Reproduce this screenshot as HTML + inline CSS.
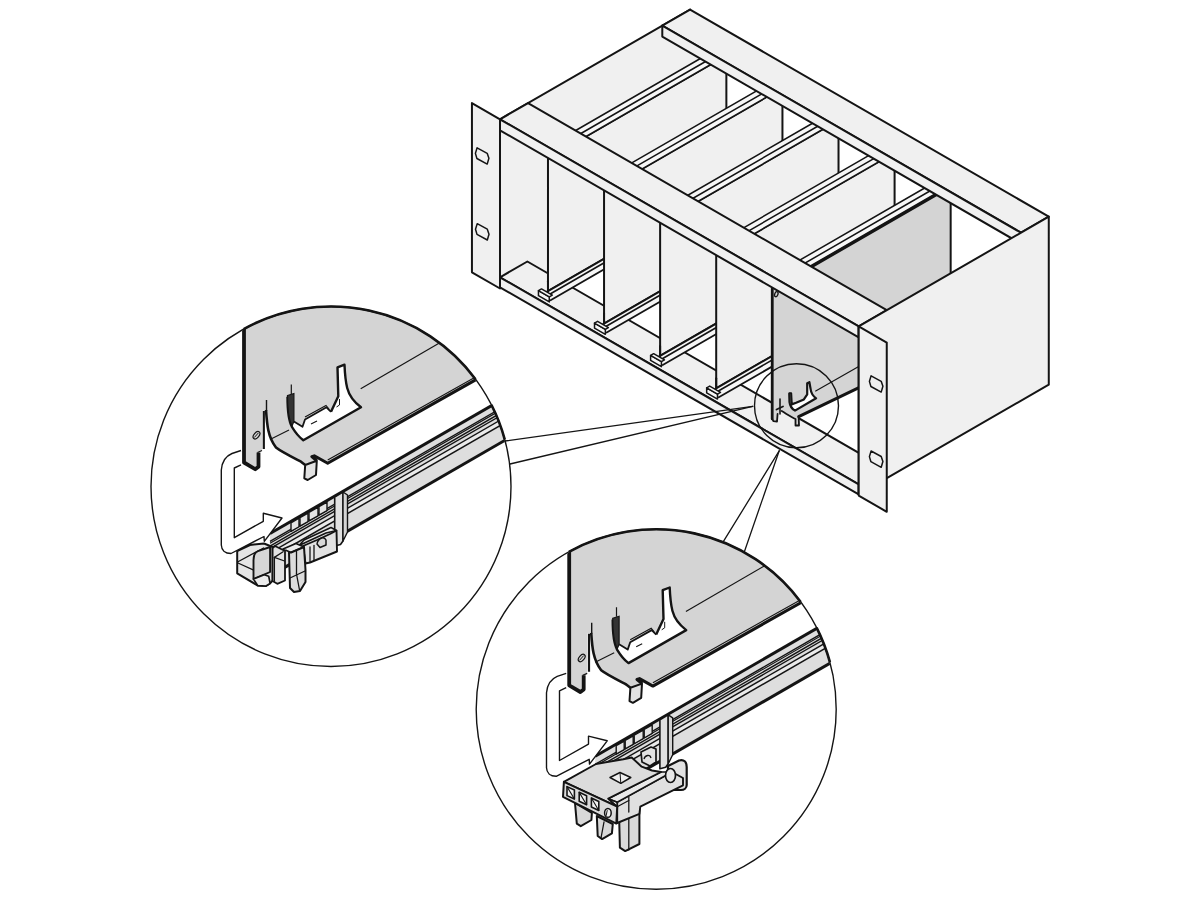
<!DOCTYPE html>
<html><head><meta charset="utf-8"><style>
html,body{margin:0;padding:0;background:#fff;font-family:"Liberation Sans", sans-serif;}
svg{display:block;}
</style></head><body>
<svg width="1200" height="900" viewBox="0 0 1200 900">
<rect width="1200" height="900" fill="#fff"/>
<defs><clipPath id="clip331"><circle cx="331" cy="486.5" r="179.5"/></clipPath>
<clipPath id="clip656"><circle cx="656.2" cy="709.3" r="179.5"/></clipPath></defs>
<polygon points="500.00,119.30 690.09,9.55 690.09,194.55 534.64,284.30 500.00,287.30" fill="#f0f0f0" stroke="none" stroke-width="0" stroke-linejoin="round" />
<polygon points="629.90,56.30 700.05,15.80 700.05,63.80 629.90,104.30" fill="#f0f0f0" stroke="none" stroke-width="0" stroke-linejoin="round" />
<line x1="500.00" y1="119.30" x2="690.09" y2="9.55" stroke="#141414" stroke-width="2.0" stroke-linecap="round" />
<polygon points="500.00,277.30 858.70,484.40 886.06,468.60 527.37,261.50" fill="#f0f0f0" stroke="#141414" stroke-width="2.0" stroke-linejoin="round" />
<polygon points="547.98,158.50 726.37,55.50 726.37,188.20 547.98,291.20" fill="#f0f0f0" stroke="#141414" stroke-width="2.0" stroke-linejoin="round" />
<polygon points="551.01,144.75 715.55,49.75 720.74,52.75 556.20,147.75" fill="#f7f7f7" stroke="none" stroke-width="0" stroke-linejoin="round" />
<polygon points="556.20,147.75 720.74,52.75 720.74,58.75 556.20,153.75" fill="#f7f7f7" stroke="none" stroke-width="0" stroke-linejoin="round" />
<line x1="551.01" y1="144.75" x2="715.55" y2="49.75" stroke="#141414" stroke-width="1.5" stroke-linecap="round" />
<line x1="556.20" y1="147.75" x2="720.74" y2="52.75" stroke="#141414" stroke-width="1.5" stroke-linecap="round" />
<line x1="556.20" y1="153.75" x2="720.74" y2="58.75" stroke="#141414" stroke-width="1.5" stroke-linecap="round" />
<polygon points="547.11,291.70 721.18,191.20 724.64,193.20 550.57,293.70" fill="#f7f7f7" stroke="none" stroke-width="0" stroke-linejoin="round" />
<polygon points="550.57,293.70 724.64,193.20 724.64,199.70 550.57,300.20" fill="#f7f7f7" stroke="none" stroke-width="0" stroke-linejoin="round" />
<line x1="547.11" y1="291.70" x2="721.18" y2="191.20" stroke="#141414" stroke-width="2.0" stroke-linecap="round" />
<line x1="550.57" y1="293.70" x2="724.64" y2="193.20" stroke="#141414" stroke-width="1.7" stroke-linecap="round" />
<line x1="550.57" y1="300.20" x2="724.64" y2="199.70" stroke="#141414" stroke-width="1.8" stroke-linecap="round" />
<polygon points="538.45,290.70 549.28,296.95 549.28,301.95 538.45,295.70" fill="#f7f7f7" stroke="#141414" stroke-width="1.5" stroke-linejoin="round" />
<polygon points="538.45,290.70 549.28,296.95 552.31,295.20 541.48,288.95" fill="#f7f7f7" stroke="#141414" stroke-width="1.5" stroke-linejoin="round" />
<line x1="547.98" y1="281.20" x2="547.98" y2="291.20" stroke="#141414" stroke-width="2.0" stroke-linecap="round" />
<polygon points="604.05,190.88 782.45,87.88 782.45,220.57 604.05,323.57" fill="#f0f0f0" stroke="#141414" stroke-width="2.0" stroke-linejoin="round" />
<polygon points="607.08,177.12 771.62,82.12 776.82,85.12 612.28,180.12" fill="#f7f7f7" stroke="none" stroke-width="0" stroke-linejoin="round" />
<polygon points="612.28,180.12 776.82,85.12 776.82,91.12 612.28,186.12" fill="#f7f7f7" stroke="none" stroke-width="0" stroke-linejoin="round" />
<line x1="607.08" y1="177.12" x2="771.62" y2="82.12" stroke="#141414" stroke-width="1.5" stroke-linecap="round" />
<line x1="612.28" y1="180.12" x2="776.82" y2="85.12" stroke="#141414" stroke-width="1.5" stroke-linecap="round" />
<line x1="612.28" y1="186.12" x2="776.82" y2="91.12" stroke="#141414" stroke-width="1.5" stroke-linecap="round" />
<polygon points="603.18,324.07 777.25,223.57 780.71,225.57 606.65,326.07" fill="#f7f7f7" stroke="none" stroke-width="0" stroke-linejoin="round" />
<polygon points="606.65,326.07 780.71,225.57 780.71,232.07 606.65,332.57" fill="#f7f7f7" stroke="none" stroke-width="0" stroke-linejoin="round" />
<line x1="603.18" y1="324.07" x2="777.25" y2="223.57" stroke="#141414" stroke-width="2.0" stroke-linecap="round" />
<line x1="606.65" y1="326.07" x2="780.71" y2="225.57" stroke="#141414" stroke-width="1.7" stroke-linecap="round" />
<line x1="606.65" y1="332.57" x2="780.71" y2="232.07" stroke="#141414" stroke-width="1.8" stroke-linecap="round" />
<polygon points="594.52,323.07 605.35,329.32 605.35,334.32 594.52,328.07" fill="#f7f7f7" stroke="#141414" stroke-width="1.5" stroke-linejoin="round" />
<polygon points="594.52,323.07 605.35,329.32 608.38,327.57 597.55,321.32" fill="#f7f7f7" stroke="#141414" stroke-width="1.5" stroke-linejoin="round" />
<line x1="604.05" y1="313.57" x2="604.05" y2="323.57" stroke="#141414" stroke-width="2.0" stroke-linecap="round" />
<polygon points="660.12,223.25 838.52,120.25 838.52,252.95 660.12,355.95" fill="#f0f0f0" stroke="#141414" stroke-width="2.0" stroke-linejoin="round" />
<polygon points="663.15,209.50 827.69,114.50 832.89,117.50 668.35,212.50" fill="#f7f7f7" stroke="none" stroke-width="0" stroke-linejoin="round" />
<polygon points="668.35,212.50 832.89,117.50 832.89,123.50 668.35,218.50" fill="#f7f7f7" stroke="none" stroke-width="0" stroke-linejoin="round" />
<line x1="663.15" y1="209.50" x2="827.69" y2="114.50" stroke="#141414" stroke-width="1.5" stroke-linecap="round" />
<line x1="668.35" y1="212.50" x2="832.89" y2="117.50" stroke="#141414" stroke-width="1.5" stroke-linecap="round" />
<line x1="668.35" y1="218.50" x2="832.89" y2="123.50" stroke="#141414" stroke-width="1.5" stroke-linecap="round" />
<polygon points="659.26,356.45 833.32,255.95 836.79,257.95 662.72,358.45" fill="#f7f7f7" stroke="none" stroke-width="0" stroke-linejoin="round" />
<polygon points="662.72,358.45 836.79,257.95 836.79,264.45 662.72,364.95" fill="#f7f7f7" stroke="none" stroke-width="0" stroke-linejoin="round" />
<line x1="659.26" y1="356.45" x2="833.32" y2="255.95" stroke="#141414" stroke-width="2.0" stroke-linecap="round" />
<line x1="662.72" y1="358.45" x2="836.79" y2="257.95" stroke="#141414" stroke-width="1.7" stroke-linecap="round" />
<line x1="662.72" y1="364.95" x2="836.79" y2="264.45" stroke="#141414" stroke-width="1.8" stroke-linecap="round" />
<polygon points="650.60,355.45 661.42,361.70 661.42,366.70 650.60,360.45" fill="#f7f7f7" stroke="#141414" stroke-width="1.5" stroke-linejoin="round" />
<polygon points="650.60,355.45 661.42,361.70 664.45,359.95 653.63,353.70" fill="#f7f7f7" stroke="#141414" stroke-width="1.5" stroke-linejoin="round" />
<line x1="660.12" y1="345.95" x2="660.12" y2="355.95" stroke="#141414" stroke-width="2.0" stroke-linecap="round" />
<polygon points="716.20,255.62 894.59,152.62 894.59,285.32 716.20,388.32" fill="#f0f0f0" stroke="#141414" stroke-width="2.0" stroke-linejoin="round" />
<polygon points="719.23,241.88 883.77,146.88 888.96,149.88 724.42,244.88" fill="#f7f7f7" stroke="none" stroke-width="0" stroke-linejoin="round" />
<polygon points="724.42,244.88 888.96,149.88 888.96,155.88 724.42,250.88" fill="#f7f7f7" stroke="none" stroke-width="0" stroke-linejoin="round" />
<line x1="719.23" y1="241.88" x2="883.77" y2="146.88" stroke="#141414" stroke-width="1.5" stroke-linecap="round" />
<line x1="724.42" y1="244.88" x2="888.96" y2="149.88" stroke="#141414" stroke-width="1.5" stroke-linecap="round" />
<line x1="724.42" y1="250.88" x2="888.96" y2="155.88" stroke="#141414" stroke-width="1.5" stroke-linecap="round" />
<polygon points="715.33,388.82 889.40,288.32 892.86,290.32 718.79,390.82" fill="#f7f7f7" stroke="none" stroke-width="0" stroke-linejoin="round" />
<polygon points="718.79,390.82 892.86,290.32 892.86,296.82 718.79,397.32" fill="#f7f7f7" stroke="none" stroke-width="0" stroke-linejoin="round" />
<line x1="715.33" y1="388.82" x2="889.40" y2="288.32" stroke="#141414" stroke-width="2.0" stroke-linecap="round" />
<line x1="718.79" y1="390.82" x2="892.86" y2="290.32" stroke="#141414" stroke-width="1.7" stroke-linecap="round" />
<line x1="718.79" y1="397.32" x2="892.86" y2="296.82" stroke="#141414" stroke-width="1.8" stroke-linecap="round" />
<polygon points="706.67,387.82 717.50,394.07 717.50,399.07 706.67,392.82" fill="#f7f7f7" stroke="#141414" stroke-width="1.5" stroke-linejoin="round" />
<polygon points="706.67,387.82 717.50,394.07 720.53,392.32 709.70,386.07" fill="#f7f7f7" stroke="#141414" stroke-width="1.5" stroke-linejoin="round" />
<line x1="716.20" y1="378.32" x2="716.20" y2="388.32" stroke="#141414" stroke-width="2.0" stroke-linecap="round" />
<polygon points="772.27,288.50 950.67,186.50 950.67,293.50 900.00,367.80 858.70,387.70 798.70,416.70 799.00,425.50 795.50,425.50 795.50,419.00 781.70,411.00 778.00,413.50 777.00,421.50 773.50,421.00 772.20,418.90" fill="#d4d4d4" stroke="none" stroke-width="0" stroke-linejoin="round" />
<line x1="772.27" y1="288.50" x2="772.20" y2="418.90" stroke="#141414" stroke-width="2.8" stroke-linecap="round" />
<path d="M772.2,418.9 L773.5,421.2 L777,421.6 L777.6,413.8 M781.7,411 C786,413.5 791,417 795.5,419 L795.5,425.5 L799,425.5 L798.7,416.7" fill="none" stroke="#141414" stroke-width="1.8" stroke-linejoin="round" stroke-linecap="round" />
<line x1="798.70" y1="416.70" x2="900.00" y2="367.80" stroke="#141414" stroke-width="3.0" stroke-linecap="round" />
<line x1="950.67" y1="186.50" x2="950.67" y2="293.50" stroke="#141414" stroke-width="2.0" stroke-linecap="round" />
<line x1="815.70" y1="391.00" x2="858.70" y2="366.50" stroke="#141414" stroke-width="1.2" stroke-linecap="round" />
<polygon points="775.30,274.25 939.84,179.25 945.04,182.25 780.50,277.25" fill="#f7f7f7" stroke="none" stroke-width="0" stroke-linejoin="round" />
<polygon points="780.50,277.25 945.04,182.25 945.04,188.25 780.50,283.25" fill="#f7f7f7" stroke="none" stroke-width="0" stroke-linejoin="round" />
<line x1="775.30" y1="274.25" x2="939.84" y2="179.25" stroke="#141414" stroke-width="1.5" stroke-linecap="round" />
<line x1="780.50" y1="277.25" x2="945.04" y2="182.25" stroke="#141414" stroke-width="1.5" stroke-linecap="round" />
<line x1="780.50" y1="283.25" x2="945.04" y2="188.25" stroke="#141414" stroke-width="1.5" stroke-linecap="round" />
<line x1="785.26" y1="282.00" x2="945.47" y2="189.50" stroke="#141414" stroke-width="2.8" stroke-linecap="round" />
<polygon points="500.00,119.30 858.70,326.40 886.76,310.20 528.06,103.10" fill="#f0f0f0" stroke="#141414" stroke-width="2.0" stroke-linejoin="round" />
<polygon points="500.00,119.30 858.70,326.40 858.70,337.40 500.00,130.30" fill="#f0f0f0" stroke="#141414" stroke-width="2.0" stroke-linejoin="round" />
<polygon points="662.29,25.60 1020.99,232.70 1048.78,216.65 690.09,9.55" fill="#f0f0f0" stroke="#141414" stroke-width="2.0" stroke-linejoin="round" />
<polygon points="662.29,25.60 1020.99,232.70 1020.99,243.70 662.29,36.60" fill="#f0f0f0" stroke="#141414" stroke-width="2.0" stroke-linejoin="round" />
<polygon points="500.00,277.30 858.70,484.40 858.70,494.40 500.00,287.30" fill="#f0f0f0" stroke="#141414" stroke-width="2.0" stroke-linejoin="round" />
<polygon points="858.70,326.40 1048.78,216.65 1048.78,384.65 858.70,494.40" fill="#f0f0f0" stroke="#141414" stroke-width="2.0" stroke-linejoin="round" />
<polygon points="471.94,103.10 500.00,119.30 500.00,288.50 471.94,272.30" fill="#f0f0f0" stroke="#141414" stroke-width="2.0" stroke-linejoin="round" />
<polygon points="858.70,326.40 886.76,342.60 886.76,511.80 858.70,495.60" fill="#f0f0f0" stroke="#141414" stroke-width="2.0" stroke-linejoin="round" />
<path d="M477.10,147.80 L487.20,153.30 L488.90,158.30 L487.20,164.10 L476.90,158.50 L475.40,153.40 Z" fill="#f0f0f0" stroke="#141414" stroke-width="1.5" stroke-linejoin="round" stroke-linecap="round" />
<path d="M477.20,223.70 L487.30,229.20 L489.00,234.20 L487.30,240.00 L477.00,234.40 L475.50,229.30 Z" fill="#f0f0f0" stroke="#141414" stroke-width="1.5" stroke-linejoin="round" stroke-linecap="round" />
<path d="M871.10,375.80 L881.20,381.30 L882.90,386.30 L881.20,392.10 L870.90,386.50 L869.40,381.40 Z" fill="#f0f0f0" stroke="#141414" stroke-width="1.5" stroke-linejoin="round" stroke-linecap="round" />
<path d="M871.10,451.00 L881.20,456.50 L882.90,461.50 L881.20,467.30 L870.90,461.70 L869.40,456.60 Z" fill="#f0f0f0" stroke="#141414" stroke-width="1.5" stroke-linejoin="round" stroke-linecap="round" />
<ellipse cx="776.3" cy="294.2" rx="1.6" ry="2.6" transform="rotate(20 776.3 294.2)" fill="none" stroke="#141414" stroke-width="1.3"/>
<path d="M789.4,393.3 L789.5,402 C790,406 792,409 795,410.6 L816.1,398.3 C813,396 811,393 810.6,389 L809.4,382.2 L807.2,383.3 L807.2,394.4 L803.9,399.4 L796.1,402.8 L791.7,404.4 L791.1,393.3 Z" fill="#fff" stroke="#141414" stroke-width="2.2" stroke-linejoin="round" stroke-linecap="round" />
<path d="M789.4,393.3 L791.1,393.3 L791.7,404.4 L790,404 Z" fill="#333" stroke="#141414" stroke-width="1.0" stroke-linejoin="round" stroke-linecap="round" />
<line x1="780.00" y1="399.00" x2="780.00" y2="414.00" stroke="#141414" stroke-width="1.6" stroke-linecap="round" />
<line x1="776.50" y1="409.50" x2="783.00" y2="406.50" stroke="#141414" stroke-width="1.8" stroke-linecap="round" />
<circle cx="796.5" cy="405.8" r="42" fill="none" stroke="#141414" stroke-width="1.4"/>
<line x1="752.70" y1="406.30" x2="505.00" y2="441.00" stroke="#141414" stroke-width="1.3" stroke-linecap="round" />
<line x1="752.70" y1="406.30" x2="510.00" y2="464.00" stroke="#141414" stroke-width="1.3" stroke-linecap="round" />
<line x1="779.20" y1="450.80" x2="723.30" y2="541.70" stroke="#141414" stroke-width="1.3" stroke-linecap="round" />
<line x1="779.20" y1="450.80" x2="744.20" y2="552.30" stroke="#141414" stroke-width="1.3" stroke-linecap="round" />
<circle cx="331" cy="486.5" r="180" fill="#fff"/>
<g clip-path="url(#clip331)"><g><polygon points="244,290 244,462.5 255.2,469.2 258.5,466.7 258.5,452.5 262,451 262,411 266,410 267.5,425 269.3,436.7 276,447.5 286,454.2 301,461.7 305.2,465 316.8,460.8 311.8,456.7 314.3,455.8 327.7,463.3 475.3,379.3 530,350 530,290" fill="#d4d4d4" stroke="none"/>
<path d="M244,300 L244,462.5 L255.2,469.2 L258.5,466.7 L258.5,452.5" fill="none" stroke="#141414" stroke-width="3.8" stroke-linejoin="round"/>
<path d="M266,410 C267,425 268,437 276,447.5 C281,451.5 292,457 301,461.7 L305.2,465" fill="none" stroke="#141414" stroke-width="2.6" stroke-linejoin="round"/>
<polygon points="305.2,465 304.3,478.3 307.7,480 316,475 316.8,460.8" fill="#e2e2e2" stroke="#141414" stroke-width="2" stroke-linejoin="round"/>
<path d="M316.8,460.8 L311.8,456.7 L314.3,455.8 L327.7,463.3 L480,377.4" fill="none" stroke="#141414" stroke-width="3" stroke-linejoin="round"/>
<path d="M327.7,460 L480,374.4" fill="none" stroke="#141414" stroke-width="1.1"/>
<line x1="263.8" y1="411" x2="263.8" y2="449" stroke="#141414" stroke-width="2.2"/>
<line x1="266.5" y1="400" x2="266.5" y2="411" stroke="#141414" stroke-width="1.4"/>
<ellipse cx="256.5" cy="435.2" rx="2.5" ry="4.3" transform="rotate(40 256.5 435.2)" fill="none" stroke="#141414" stroke-width="1.2"/>
<line x1="254.3" y1="437.5" x2="258.5" y2="432.8" stroke="#141414" stroke-width="1"/>
<line x1="360.7" y1="388.7" x2="460" y2="331" stroke="#141414" stroke-width="1.2"/>
<line x1="270" y1="439.5" x2="289" y2="430" stroke="#141414" stroke-width="1.1"/>
<line x1="257.5" y1="452.5" x2="262" y2="450.5" stroke="#141414" stroke-width="1.3"/>
<polygon points="288.3,416.3 290,425 295,431.3 303.3,440.3 361,407.3 355,401.3 350,395 347.7,390 345.5,382 344.5,364.7 337.5,367.4 338.3,396.2 331,411.8 326.5,407.3 304.8,420 302.5,426.8 293.9,421.5 293.9,394.5 287.5,396.8" fill="#fff" stroke="none"/>
<path d="M287.5,396.8 C287.5,410 288,420 292,427 C295,432 299,437 303.3,440.3 L361,407.3 C354,402 349,395 347.2,388 C345.5,381 344.8,372 344.5,364.7 L337.5,367.4 L338.3,396.2 L331,411.8" fill="none" stroke="#141414" stroke-width="2.4" stroke-linejoin="round"/>
<path d="M331,411.8 L326.5,407.3 L305,419.5 L302.5,426.8 L293.9,421.5" fill="none" stroke="#141414" stroke-width="1.8" stroke-linejoin="round"/>
<path d="M305,417 L326,405.5 L329,409" fill="none" stroke="#141414" stroke-width="1.1"/>
<path d="M287.5,395.5 L293.9,393.5 L293.9,421.5 L292,426 C289,420 287.5,410 287.5,395.5Z" fill="#333" stroke="#141414" stroke-width="1.2"/>
<line x1="291.3" y1="384.5" x2="291.3" y2="394" stroke="#141414" stroke-width="1.2"/>
<path d="M339.5,399 L339.5,405 L336.5,407" fill="none" stroke="#141414" stroke-width="1"/>
<line x1="311" y1="424" x2="317" y2="421" stroke="#141414" stroke-width="1.1"/>
<polygon points="270,533.47 520,389.22 520,431.62 270,575.87" fill="#dedede" stroke="none"/>
<polygon points="270,552.97 520,408.72 520,414.02000000000004 270,558.27" fill="#ebebeb" stroke="none"/>
<line x1="270" y1="533.47" x2="520" y2="389.22" stroke="#141414" stroke-width="3.0"/>
<line x1="270" y1="541.47" x2="520" y2="397.22" stroke="#141414" stroke-width="1.4"/>
<line x1="270" y1="543.27" x2="520" y2="399.02" stroke="#141414" stroke-width="1.2"/>
<line x1="270" y1="546.07" x2="520" y2="401.82" stroke="#141414" stroke-width="1.4"/>
<line x1="270" y1="548.67" x2="520" y2="404.42" stroke="#141414" stroke-width="1.4"/>
<line x1="270" y1="552.97" x2="520" y2="408.72" stroke="#141414" stroke-width="1.4"/>
<line x1="270" y1="558.27" x2="520" y2="414.02" stroke="#141414" stroke-width="1.5"/>
<line x1="270" y1="575.87" x2="520" y2="431.62" stroke="#141414" stroke-width="3.0"/>
<polygon points="291,522.853 299,518.237 299,526.737 291,531.353" fill="#e4e4e4" stroke="#141414" stroke-width="1.4" stroke-linejoin="round"/>
<polygon points="300,517.66 308,513.044 308,521.544 300,526.16" fill="#e4e4e4" stroke="#141414" stroke-width="1.4" stroke-linejoin="round"/>
<polygon points="309,512.467 318,507.274 318,515.774 309,520.967" fill="#e4e4e4" stroke="#141414" stroke-width="1.4" stroke-linejoin="round"/>
<polygon points="319,506.697 327,502.081 327,510.581 319,515.197" fill="#e4e4e4" stroke="#141414" stroke-width="1.4" stroke-linejoin="round"/>
<polygon points="334.7,497 343,492 343,541 340.5,544.5 334.7,546" fill="#e0e0e0" stroke="#141414" stroke-width="1.6" stroke-linejoin="round"/>
<polygon points="343,492 347.5,495 347.5,532 343,541" fill="#d4d4d4" stroke="#141414" stroke-width="1.4" stroke-linejoin="round"/></g><polygon points="237.2,551 237.2,573.3 257.8,585.6 266,586 270.1,583.4 272.6,580.5 272.6,547 264,543.5 250,545" fill="#e6e6e6" stroke="#141414" stroke-width="2.0" stroke-linejoin="round"/>
<line x1="238" y1="561.8" x2="263.6" y2="548" stroke="#141414" stroke-width="1.3" stroke-linecap="round"/>
<line x1="238" y1="563" x2="254.2" y2="570.4" stroke="#141414" stroke-width="1.3" stroke-linecap="round"/>
<path d="M258,551.2 C255,552.2 253.5,555 253.5,560.3 L253.5,579.1 L270.1,572 L270.1,547 Z" fill="#d6d6d6" stroke="#141414" stroke-width="1.9" stroke-linejoin="round"/>
<polygon points="253.5,579.1 257.8,585.6 266,586 270.1,583.4 268.7,576.2 264.3,574.8" fill="#ececec" stroke="#141414" stroke-width="1.7" stroke-linejoin="round"/>
<polygon points="272.6,548 275,546 285,551 285,580.5 277.3,583.8 272.6,581" fill="#e2e2e2" stroke="#141414" stroke-width="1.8" stroke-linejoin="round"/>
<line x1="274.4" y1="557.4" x2="283.1" y2="551.7" stroke="#141414" stroke-width="1.3" stroke-linecap="round"/>
<line x1="274.4" y1="557.4" x2="274.4" y2="581" stroke="#141414" stroke-width="1.3" stroke-linecap="round"/>
<line x1="274.4" y1="557.4" x2="284.5" y2="561" stroke="#141414" stroke-width="1.3" stroke-linecap="round"/>
<polygon points="303,546 317,540 330,534 336.5,530.5 337,551.5 310,562.5 305.5,563.5" fill="#e2e2e2" stroke="#141414" stroke-width="1.9" stroke-linejoin="round"/>
<polygon points="299,545.5 313,539 326,533 336.5,530.5 331,527.5 318,533.5 304,540" fill="#ececec" stroke="#141414" stroke-width="1.5" stroke-linejoin="round"/>
<path d="M317,544 C318,538 324,536 326,540 L326,545 L320,547.5 Z" fill="#d8d8d8" stroke="#141414" stroke-width="1.5" stroke-linejoin="round"/>
<line x1="310" y1="547" x2="310" y2="562" stroke="#141414" stroke-width="1.3" stroke-linecap="round"/>
<line x1="314" y1="545.5" x2="314" y2="560.5" stroke="#141414" stroke-width="1.3" stroke-linecap="round"/>
<polygon points="283,549 296,543.5 304,547 291,552.5" fill="#ececec" stroke="#141414" stroke-width="1.7" stroke-linejoin="round"/>
<polygon points="289,552.5 290,588 294,592 300,591 305.5,582 305.5,570 304,547 291,552.5" fill="#dcdcdc" stroke="#141414" stroke-width="2.0" stroke-linejoin="round"/>
<line x1="296.5" y1="550" x2="296.5" y2="574" stroke="#141414" stroke-width="1.3" stroke-linecap="round"/>
<line x1="296.5" y1="574" x2="299.5" y2="590" stroke="#141414" stroke-width="1.3" stroke-linecap="round"/>
<line x1="290" y1="578" x2="305" y2="571" stroke="#141414" stroke-width="1.3" stroke-linecap="round"/><path d="M241,450.5 L232,453.5 C226,456 222,461 221.3,470 L221.3,545 C221.5,550 225,553.5 231,553.5 L264,536.5 L264.3,541.3 L282,518 L263.3,513.3 L263.3,521.3 L234.3,537.7 L234.3,468 L241,464.9" fill="#fff" stroke="#141414" stroke-width="1.4" stroke-linejoin="round"/></g>
<circle cx="331" cy="486.5" r="180" fill="none" stroke="#141414" stroke-width="1.4"/>
<path d="M243.73,329.07 A180,180 0 0 1 475.51,379.18" fill="none" stroke="#141414" stroke-width="2.6"/>
<path d="M491.38,404.78 A180,180 0 0 1 504.70,439.31" fill="none" stroke="#141414" stroke-width="2.6"/>
<circle cx="656.2" cy="709.3" r="180" fill="#fff"/>
<g clip-path="url(#clip656)"><g transform="translate(325.2,222.8)"><polygon points="244,290 244,462.5 255.2,469.2 258.5,466.7 258.5,452.5 262,451 262,411 266,410 267.5,425 269.3,436.7 276,447.5 286,454.2 301,461.7 305.2,465 316.8,460.8 311.8,456.7 314.3,455.8 327.7,463.3 475.3,379.3 530,350 530,290" fill="#d4d4d4" stroke="none"/>
<path d="M244,300 L244,462.5 L255.2,469.2 L258.5,466.7 L258.5,452.5" fill="none" stroke="#141414" stroke-width="3.8" stroke-linejoin="round"/>
<path d="M266,410 C267,425 268,437 276,447.5 C281,451.5 292,457 301,461.7 L305.2,465" fill="none" stroke="#141414" stroke-width="2.6" stroke-linejoin="round"/>
<polygon points="305.2,465 304.3,478.3 307.7,480 316,475 316.8,460.8" fill="#e2e2e2" stroke="#141414" stroke-width="2" stroke-linejoin="round"/>
<path d="M316.8,460.8 L311.8,456.7 L314.3,455.8 L327.7,463.3 L480,377.4" fill="none" stroke="#141414" stroke-width="3" stroke-linejoin="round"/>
<path d="M327.7,460 L480,374.4" fill="none" stroke="#141414" stroke-width="1.1"/>
<line x1="263.8" y1="411" x2="263.8" y2="449" stroke="#141414" stroke-width="2.2"/>
<line x1="266.5" y1="400" x2="266.5" y2="411" stroke="#141414" stroke-width="1.4"/>
<ellipse cx="256.5" cy="435.2" rx="2.5" ry="4.3" transform="rotate(40 256.5 435.2)" fill="none" stroke="#141414" stroke-width="1.2"/>
<line x1="254.3" y1="437.5" x2="258.5" y2="432.8" stroke="#141414" stroke-width="1"/>
<line x1="360.7" y1="388.7" x2="460" y2="331" stroke="#141414" stroke-width="1.2"/>
<line x1="270" y1="439.5" x2="289" y2="430" stroke="#141414" stroke-width="1.1"/>
<line x1="257.5" y1="452.5" x2="262" y2="450.5" stroke="#141414" stroke-width="1.3"/>
<polygon points="288.3,416.3 290,425 295,431.3 303.3,440.3 361,407.3 355,401.3 350,395 347.7,390 345.5,382 344.5,364.7 337.5,367.4 338.3,396.2 331,411.8 326.5,407.3 304.8,420 302.5,426.8 293.9,421.5 293.9,394.5 287.5,396.8" fill="#fff" stroke="none"/>
<path d="M287.5,396.8 C287.5,410 288,420 292,427 C295,432 299,437 303.3,440.3 L361,407.3 C354,402 349,395 347.2,388 C345.5,381 344.8,372 344.5,364.7 L337.5,367.4 L338.3,396.2 L331,411.8" fill="none" stroke="#141414" stroke-width="2.4" stroke-linejoin="round"/>
<path d="M331,411.8 L326.5,407.3 L305,419.5 L302.5,426.8 L293.9,421.5" fill="none" stroke="#141414" stroke-width="1.8" stroke-linejoin="round"/>
<path d="M305,417 L326,405.5 L329,409" fill="none" stroke="#141414" stroke-width="1.1"/>
<path d="M287.5,395.5 L293.9,393.5 L293.9,421.5 L292,426 C289,420 287.5,410 287.5,395.5Z" fill="#333" stroke="#141414" stroke-width="1.2"/>
<line x1="291.3" y1="384.5" x2="291.3" y2="394" stroke="#141414" stroke-width="1.2"/>
<path d="M339.5,399 L339.5,405 L336.5,407" fill="none" stroke="#141414" stroke-width="1"/>
<line x1="311" y1="424" x2="317" y2="421" stroke="#141414" stroke-width="1.1"/>
<polygon points="270,533.47 520,389.22 520,431.62 270,575.87" fill="#dedede" stroke="none"/>
<polygon points="270,552.97 520,408.72 520,414.02000000000004 270,558.27" fill="#ebebeb" stroke="none"/>
<line x1="270" y1="533.47" x2="520" y2="389.22" stroke="#141414" stroke-width="3.0"/>
<line x1="270" y1="541.47" x2="520" y2="397.22" stroke="#141414" stroke-width="1.4"/>
<line x1="270" y1="543.27" x2="520" y2="399.02" stroke="#141414" stroke-width="1.2"/>
<line x1="270" y1="546.07" x2="520" y2="401.82" stroke="#141414" stroke-width="1.4"/>
<line x1="270" y1="548.67" x2="520" y2="404.42" stroke="#141414" stroke-width="1.4"/>
<line x1="270" y1="552.97" x2="520" y2="408.72" stroke="#141414" stroke-width="1.4"/>
<line x1="270" y1="558.27" x2="520" y2="414.02" stroke="#141414" stroke-width="1.5"/>
<line x1="270" y1="575.87" x2="520" y2="431.62" stroke="#141414" stroke-width="3.0"/>
<polygon points="291,522.853 299,518.237 299,526.737 291,531.353" fill="#e4e4e4" stroke="#141414" stroke-width="1.4" stroke-linejoin="round"/>
<polygon points="300,517.66 308,513.044 308,521.544 300,526.16" fill="#e4e4e4" stroke="#141414" stroke-width="1.4" stroke-linejoin="round"/>
<polygon points="309,512.467 318,507.274 318,515.774 309,520.967" fill="#e4e4e4" stroke="#141414" stroke-width="1.4" stroke-linejoin="round"/>
<polygon points="319,506.697 327,502.081 327,510.581 319,515.197" fill="#e4e4e4" stroke="#141414" stroke-width="1.4" stroke-linejoin="round"/>
<polygon points="334.7,497 343,492 343,541 340.5,544.5 334.7,546" fill="#e0e0e0" stroke="#141414" stroke-width="1.6" stroke-linejoin="round"/>
<polygon points="343,492 347.5,495 347.5,532 343,541" fill="#d4d4d4" stroke="#141414" stroke-width="1.4" stroke-linejoin="round"/></g><polygon points="641,752 651,747 656,749 656,762 650,766 642,762" fill="#e2e2e2" stroke="#141414" stroke-width="1.7" stroke-linejoin="round"/>
<path d="M644,759 C645,755 650,754 651,758" fill="none" stroke="#141414" stroke-width="1.3"/>
<polygon points="575,803 576.8,823.6 580.8,826.2 591.4,820 591.9,813" fill="#d8d8d8" stroke="#141414" stroke-width="2.0" stroke-linejoin="round"/>
<polygon points="596.8,816 597.7,836 602.1,839.1 611.9,833.3 612.8,824" fill="#d8d8d8" stroke="#141414" stroke-width="2.0" stroke-linejoin="round"/>
<line x1="604" y1="822" x2="601" y2="838" stroke="#141414" stroke-width="1.3" stroke-linecap="round"/>
<polygon points="619,812 619.9,847.6 625.2,851.1 639.4,844 639.4,805" fill="#dadada" stroke="#141414" stroke-width="2.0" stroke-linejoin="round"/>
<line x1="628.8" y1="813" x2="628.8" y2="850" stroke="#141414" stroke-width="1.3" stroke-linecap="round"/>
<path d="M668,766 L679,760.5 C684,759 686.7,762 686.7,767 L686.7,785 C686.7,788 684,790 681,790 L668,790 Z" fill="#e2e2e2" stroke="#141414" stroke-width="2.2" stroke-linejoin="round"/>
<polygon points="617.2,802.2 672,772 683,778 683,785.3 640.3,806.7 639.4,813.8 617.2,823" fill="#e0e0e0" stroke="#141414" stroke-width="1.9" stroke-linejoin="round"/>
<line x1="628.8" y1="797" x2="628.8" y2="812" stroke="#141414" stroke-width="1.3" stroke-linecap="round"/>
<line x1="617.2" y1="806.7" x2="628.8" y2="800.5" stroke="#141414" stroke-width="1.3" stroke-linecap="round"/>
<polygon points="608.3,798.7 661,772 672,772 617.2,802.2" fill="#e8e8e8" stroke="#141414" stroke-width="1.5" stroke-linejoin="round"/>
<polygon points="563.9,781.8 596,764 623.3,759.2 631.7,757.5 641.7,766.7 652,770.5 661,772 608.3,798.7 617.2,806.7" fill="#dcdcdc" stroke="#141414" stroke-width="1.9" stroke-linejoin="round"/>
<line x1="608.3" y1="798.7" x2="617.2" y2="802.2" stroke="#141414" stroke-width="1.3" stroke-linecap="round"/>
<polygon points="610,777.5 620,772.5 630.8,777.5 620.8,783.3" fill="#eeeeee" stroke="#141414" stroke-width="1.5" stroke-linejoin="round"/>
<line x1="620" y1="772.5" x2="620.8" y2="783.3" stroke="#141414" stroke-width="1.0" stroke-linecap="round"/>
<ellipse cx="670.5" cy="775.5" rx="5" ry="7" fill="#e8e8e8" stroke="#141414" stroke-width="1.7"/>
<polygon points="563.9,781.8 617.2,806.7 616.3,823.6 563,796.9" fill="#dadada" stroke="#141414" stroke-width="2.0" stroke-linejoin="round"/>
<polygon points="567.0,786.6477 574.4,790.0477 574.4,799.0477 567.0,795.6477" fill="#f0f0f0" stroke="#141414" stroke-width="1.6" stroke-linejoin="round"/>
<line x1="567.0" y1="786.6477" x2="574.4" y2="799.0477" stroke="#141414" stroke-width="1.1" stroke-linecap="round"/>
<polygon points="579.2,792.3451 586.6,795.7451 586.6,804.7451 579.2,801.3451" fill="#f0f0f0" stroke="#141414" stroke-width="1.6" stroke-linejoin="round"/>
<line x1="579.2" y1="792.3451" x2="586.6" y2="804.7451" stroke="#141414" stroke-width="1.1" stroke-linecap="round"/>
<polygon points="591.4,798.0424999999999 598.8,801.4424999999999 598.8,810.4424999999999 591.4,807.0424999999999" fill="#f0f0f0" stroke="#141414" stroke-width="1.6" stroke-linejoin="round"/>
<line x1="591.4" y1="798.0424999999999" x2="598.8" y2="810.4424999999999" stroke="#141414" stroke-width="1.1" stroke-linecap="round"/>
<ellipse cx="607.9" cy="812.9" rx="3.3" ry="4.4" fill="#f0f0f0" stroke="#141414" stroke-width="1.5"/>
<line x1="607.2" y1="810.5" x2="606.2" y2="815.5" stroke="#141414" stroke-width="1.0" stroke-linecap="round"/><path d="M241,450.5 L232,453.5 C226,456 222,461 221.3,470 L221.3,545 C221.5,550 225,553.5 231,553.5 L264,536.5 L264.3,541.3 L282,518 L263.3,513.3 L263.3,521.3 L234.3,537.7 L234.3,468 L241,464.9" transform="translate(325.2,222.8)" fill="#fff" stroke="#141414" stroke-width="1.4" stroke-linejoin="round"/></g>
<circle cx="656.2" cy="709.3" r="180" fill="none" stroke="#141414" stroke-width="1.4"/>
<path d="M568.93,551.87 A180,180 0 0 1 800.71,601.98" fill="none" stroke="#141414" stroke-width="2.6"/>
<path d="M816.58,627.58 A180,180 0 0 1 829.90,662.11" fill="none" stroke="#141414" stroke-width="2.6"/>
</svg>
</body></html>
